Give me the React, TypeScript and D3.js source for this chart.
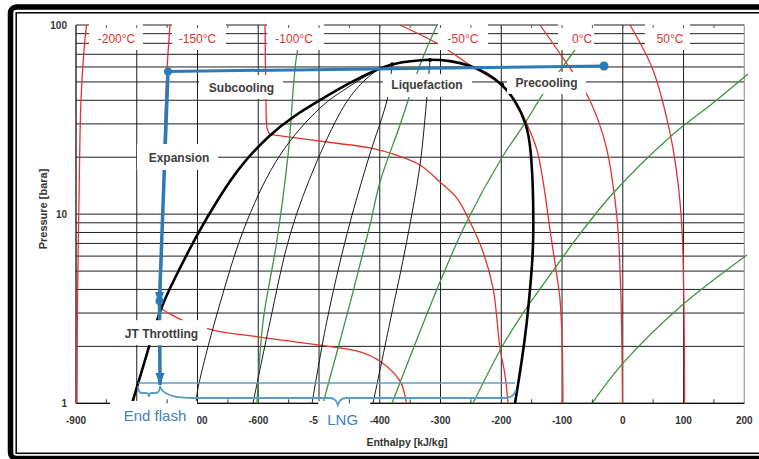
import React from 'react';
import * as d3 from 'd3';

type Pt = [number, number]; // [enthalpy kJ/kg, pressure bara]

// ---------- axes ----------
const xTickValues = [-900, -800, -700, -600, -500, -400, -300, -200, -100, 0, 100, 200];
const xTickLabels = [-900, -700, -600, -500, -400, -300, -200, -100, 0, 100, 200];
const xMinorTicks = [-850, -750, -650, -550, -450, -350, -250, -150, -50, 50, 150];
const yTickLabels = [1, 10, 100];
const yGridValues = [1, 2, 3, 4, 5, 6, 7, 8, 9, 10, 20, 30, 40, 50, 60, 70, 80, 90, 100];

// ---------- phase envelope ----------
const phaseEnvelope: Pt[] = [
  [-807.8, 1.0], [-788.1, 1.61], [-761.7, 3.19], [-738.7, 4.49], [-700.8, 7.85], [-663, 12.5],
  [-630.1, 18.0], [-580.7, 26.5], [-539.5, 33.4], [-498.4, 40.1], [-449, 49.7], [-399.6, 59.3],
  [-379.9, 62.2], [-350.2, 64.5], [-317.3, 65.9], [-284.4, 64.8], [-251.5, 61.4], [-223.5, 55.7],
  [-198.8, 48.8], [-177.4, 40.1], [-157.7, 30.0], [-151.1, 21.8], [-147.8, 13.8], [-147, 9.3],
  [-147.8, 6.1], [-152.7, 3.97], [-157.7, 2.69], [-165.9, 1.69], [-177.4, 1.0],
];
const envelopeMarkers: Pt[] = [[-379.9, 62.0], [-317.3, 65.3], [-198.8, 48.6]];

// ---------- quality lines (thin black) ----------
const quality1: Pt[] = [[-702.5, 1], [-699.2, 1.2], [-668.4, 2.93], [-619, 9.12], [-564.2, 20.5], [-498.4, 36.4], [-449, 47.6], [-399.6, 59.3]];
const quality2: Pt[] = [[-608.7, 1], [-580.7, 2.69], [-547.8, 7.76], [-503.8, 18.9], [-454.4, 39.3], [-424.3, 51.2], [-399.6, 59.3]];
const quality3: Pt[] = [[-511.5, 1], [-487.4, 2.69], [-454.4, 7.76], [-419.4, 19.3], [-386.4, 42.1], [-379.9, 62.0]];
const quality4: Pt[] = [[-411.1, 1], [-383.2, 2.69], [-355.7, 7.15], [-333.8, 18.2], [-322.3, 42.1], [-317.3, 65.3]];

// ---------- green lines ----------
const green1: Pt[] = [[-602.1, 1], [-592.2, 2.69], [-569.6, 7.15], [-551, 20.5], [-536.7, 69.4], [-524.7, 100]];
const green2: Pt[] = [[-493.4, 1], [-447.4, 3.52], [-416.1, 8.76], [-399.6, 14.8], [-366.7, 29.6], [-333.8, 61.4], [-305.8, 100]];
const green3: Pt[] = [[-379.9, 1], [-300.9, 4.38], [-256.9, 9.12], [-199.3, 19.8], [-161, 30.3], [-131.3, 43.2], [-96.8, 61.4], [-49, 100]];
const green4: Pt[] = [[-246.5, 1], [-198.8, 1.99], [-164.2, 3.0], [-98.4, 5.94], [-65.5, 8.25], [-16.1, 12.9], [77.7, 25.6], [148.5, 38.7], [206, 55.1]];
const green5: Pt[] = [[-50.7, 1], [0.4, 1.63], [94.2, 3.23], [204.4, 6.08]];

// ---------- isotherms (red) ----------
const isoM200: Pt[] = [[-882.7, 100], [-886.8, 73.8], [-891.8, 40.1], [-895.1, 11.9], [-897.5, 3.52], [-898.4, 1]];
const isoM150Liquid: Pt[] = [[-745.3, 100], [-750.2, 57.8], [-755.2, 21.8], [-758.4, 6.46], [-761.7, 3.19]];
const isoM150TwoPhase: Pt[] = [[-761.7, 3.19], [-745.3, 2.97], [-726, 2.76], [-674.5, 2.44], [-597.1, 2.24], [-498.4, 2.03], [-432.5, 1.87], [-399.6, 1.67], [-366.7, 1.31], [-356, 1.0]];
const isoM100Liquid: Pt[] = [[-588.9, 100], [-587.3, 40.1], [-585.6, 28.6], [-581.5, 26.4]];
const isoM100TwoPhase: Pt[] = [[-581.5, 26.4], [-470.9, 23.7], [-416.1, 22.4], [-372.1, 20.5], [-333.8, 18.2], [-300.9, 14.8], [-273.4, 12.2], [-251.5, 9.12], [-230.1, 6.33], [-213.6, 4.07], [-202.1, 1.96], [-193.9, 1.41], [-188.9, 1.0]];
const isoM50Upper: Pt[] = [[-366.7, 100], [-300.9, 78.4], [-251.5, 61.4], [-198.8, 48.6]];
const isoM50Lower: Pt[] = [[-198.8, 48.6], [-177.4, 40.1], [-157.7, 30.0], [-141.2, 21.8], [-129.7, 13.9], [-119.8, 8.25], [-109.9, 5.07], [-103.3, 3.52], [-100, 2.16], [-98.4, 1.0]];
const iso0: Pt[] = [[-136.3, 100], [-98.4, 66.9], [-62.2, 44.8], [-40.8, 31.5], [-26, 21.8], [-12.8, 11.9], [-7.9, 8.25], [-2.9, 3.52], [-0.5, 1.0]];
const iso50: Pt[] = [[11.9, 100], [49.7, 57.8], [77.7, 26.9], [90.9, 14.6], [97.5, 8.25], [100.8, 3.0], [101.6, 1.0]];

const tempLabels = ['-200°C', '-150°C', '-100°C', '-50°C', '0°C', '50°C'];
const tempLabelH = [-833.3, -700, -541, -263, -67, 77.7];
const tempLabelP = 84.3;

// ---------- LNG process (blue) ----------
const processCooling: Pt[] = [[-748.6, 56.8], [-30.9, 60.7]];
const processExpansion: Pt[] = [[-748.6, 56.8], [-762.6, 3.47]];
const processThrottling: Pt[] = [[-762.6, 3.47], [-761.7, 1.25]];
const processDots: Pt[] = [[-748.6, 56.8], [-30.9, 60.7], [-762.6, 3.47]];
const lngLevelLine: Pt[] = [[-798, 1.28], [-177.4, 1.28]];
const endFlashRange = [-798, -762];
const lngRange = [-762, -176];

const processLabels = ['Subcooling', 'Expansion', 'Liquefaction', 'Precooling', 'JT Throttling'];
const processLabelH = [-627.6, -730.5, -322.3, -125.6, -759.3];
const processLabelP = [46.4, 19.8, 48.2, 49.4, 2.32];

// ---------- styles (not data) ----------
const FONT = "'Liberation Sans', Arial, Helvetica, sans-serif";
const RED = '#e2332d';
const GREEN = '#3d963d';
const BLUE = '#2b7bb9';
const LIGHTBLUE = '#5b9cc4';
const GRID = '#1e1e1e';
const tempBoxPad = [[-27.5, 26.5], [-25.5, 28.5], [-27, 30], [-25, 25], [-24, 12], [-25, 20]];
const procBoxPad = [
  [-42.5, 41.5, -13, 11],
  [-42, 39, -14, 12],
  [-44, 45, -11, 12],
  [-39.5, 39.5, -11, 11],
  [-46.5, 45.5, -14, 11],
];

export default function App() {
  const x = d3.scaleLinear().domain([-900, 200]).range([76, 744.3]);
  const y = d3.scaleLog().domain([1, 100]).range([403.3, 25]);
  const curve = d3.line<Pt>().x(d => x(d[0])).y(d => y(d[1])).curve(d3.curveCatmullRom.alpha(0.5));
  const smooth = d3.line<Pt>().x(d => x(d[0])).y(d => y(d[1])).curve(d3.curveBasis);
  const straight = d3.line<Pt>().x(d => x(d[0])).y(d => y(d[1]));

  const x0 = x(-900), x1 = x(200), yTop = y(100), yBot = y(1);

  const redLines = [isoM200, isoM150Liquid, isoM150TwoPhase, isoM100Liquid, isoM100TwoPhase, isoM50Upper, isoM50Lower, iso0, iso50];
  const greenLines = [green1, green2, green3, green4, green5];
  const qualityLines = [quality1, quality2, quality3, quality4];

  // braces
  const b0 = y(lngLevelLine[0][1]) + 3;
  const ef0 = x(endFlashRange[0]), ef1 = x(endFlashRange[1]), efm = (ef0 + ef1) / 2;
  const endFlashBrace = `M${ef0},${b0} Q${ef0},${b0 + 7} ${ef0 + 4},${b0 + 7} L${efm - 3},${b0 + 7} Q${efm},${b0 + 7} ${efm},${b0 + 11} Q${efm},${b0 + 7} ${efm + 3},${b0 + 7} L${ef1 - 4},${b0 + 7} Q${ef1},${b0 + 7} ${ef1},${b0}`;
  const l0 = x(lngRange[0]), l1 = x(lngRange[1]), lm = (l0 + l1) / 2;
  const lngBrace = `M${l0},${b0} C${l0 + 3},${b0 + 9} ${l0 + 14},${b0 + 12} ${l0 + 35},${b0 + 12} L${lm - 8},${b0 + 12} Q${lm - 2},${b0 + 12} ${lm},${b0 + 19} Q${lm + 2},${b0 + 12} ${lm + 8},${b0 + 12} L${l1 - 12},${b0 + 12} Q${l1 - 2},${b0 + 12} ${l1},${b0 + 4}`;

  const arrowDown = (px: number, py: number, len: number, hw: number) =>
    `M${px},${py} L${px - hw},${py - len} L${px + hw},${py - len} Z`;

  const dotExp = processDots[2];
  const thrEnd = processThrottling[1];

  const efCenter = x(-770);
  const lngCenter = x(-461);

  return (
    <svg width={759} height={459} style={{ position: 'absolute', left: 0, top: 0, display: 'block' }} fontFamily={FONT}>
      <rect x={0} y={0} width={759} height={459} fill="#fff" />

      {/* grid */}
      {yGridValues.map(v => (
        <line key={'hg' + v} x1={x0} x2={x1} y1={y(v)} y2={y(v)} stroke={GRID} strokeWidth={1} />
      ))}
      {xTickValues.slice(1, -1).map(v => (
        <line key={'vg' + v} x1={x(v)} x2={x(v)} y1={yTop} y2={yBot} stroke={GRID} strokeWidth={1} />
      ))}
      <line x1={x1} x2={x1} y1={yTop} y2={yBot} stroke="#9a9a9a" strokeWidth={1.2} />
      <line x1={x0} x2={x0} y1={yTop} y2={yBot} stroke="#111" strokeWidth={1.3} />
      <line x1={x0} x2={x1} y1={yBot} y2={yBot} stroke="#111" strokeWidth={1.3} />

      {/* isotherms */}
      {redLines.map((d, i) => (
        <path key={'r' + i} d={curve(d) || ''} fill="none" stroke={RED} strokeWidth={1.3} />
      ))}
      {/* green lines */}
      {greenLines.map((d, i) => (
        <path key={'g' + i} d={curve(d) || ''} fill="none" stroke={GREEN} strokeWidth={1.3} />
      ))}
      {/* quality lines */}
      {qualityLines.map((d, i) => (
        <path key={'q' + i} d={curve(d) || ''} fill="none" stroke="#1a1a1a" strokeWidth={1} />
      ))}
      {/* envelope */}
      <path d={smooth(phaseEnvelope) || ''} fill="none" stroke="#000" strokeWidth={2.6} />
      {envelopeMarkers.map((d, i) => (
        <circle key={'ed' + i} cx={x(d[0])} cy={y(d[1])} r={2} fill="#000" />
      ))}

      {/* LNG level line */}
      <path d={straight(lngLevelLine) || ''} fill="none" stroke={LIGHTBLUE} strokeWidth={1.5} />

      {/* blue process */}
      <path d={straight(processCooling) || ''} fill="none" stroke={BLUE} strokeWidth={3} />
      <path d={straight(processExpansion) || ''} fill="none" stroke={BLUE} strokeWidth={3.5} />
      <path d={straight(processThrottling) || ''} fill="none" stroke={BLUE} strokeWidth={3.5} />
      <path d={arrowDown(x(dotExp[0]), y(dotExp[1]) + 4, 13, 4.5)} fill={BLUE} />
      <path d={arrowDown(x(thrEnd[0]), y(thrEnd[1]) + 1, 13, 4.5)} fill={BLUE} />
      {processDots.map((d, i) => (
        <circle key={'pd' + i} cx={x(d[0])} cy={y(d[1])} r={i === 1 ? 4.5 : 4} fill={BLUE} />
      ))}

      {/* tick labels */}
      {xTickLabels.map(v => (
        <text key={'xt' + v} x={x(v)} y={424} textAnchor="middle" fontSize={10} fontWeight="bold" fill="#333">{v}</text>
      ))}
      {yTickLabels.map(v => (
        <text key={'yt' + v} x={67} y={y(v)} textAnchor="end" dominantBaseline="central" fontSize={10} fontWeight="bold" fill="#333">{v}</text>
      ))}

      {/* label boxes */}
      {tempLabels.map((t, i) => {
        const cx = x(tempLabelH[i]);
        return <rect key={'tb' + i} x={cx + tempBoxPad[i][0]} y={22} width={tempBoxPad[i][1] - tempBoxPad[i][0]} height={28} fill="#fff" />;
      })}
      {processLabels.map((t, i) => {
        const cx = x(processLabelH[i]);
        const cy = y(processLabelP[i]);
        const p = procBoxPad[i];
        return <rect key={'pb' + i} x={cx + p[0]} y={cy + p[2]} width={p[1] - p[0]} height={p[3] - p[2]} fill="#fff" />;
      })}
      <rect x={efCenter - 45} y={401} width={87} height={32} fill="#fff" />
      <rect x={lngCenter - 24.5} y={401} width={52} height={32} fill="#fff" />

      {/* ticks */}
      {xMinorTicks.map(v => (
        <line key={'bt' + v} x1={x(v)} x2={x(v)} y1={yBot} y2={yBot - 4} stroke="#333" strokeWidth={1} />
      ))}
      {[...xTickValues.slice(1, -1), ...xMinorTicks].map(v => (
        <line key={'tt' + v} x1={x(v)} x2={x(v)} y1={yTop} y2={yTop + 3} stroke="#555" strokeWidth={1} />
      ))}

      {/* braces */}
      <path d={endFlashBrace} fill="none" stroke={LIGHTBLUE} strokeWidth={1.8} />
      <path d={lngBrace} fill="none" stroke={LIGHTBLUE} strokeWidth={1.8} />

      {/* texts */}
      {tempLabels.map((t, i) => (
        <text key={'tl' + i} x={x(tempLabelH[i])} y={y(tempLabelP)} textAnchor="middle" dominantBaseline="central" fontSize={12} fill={RED}>{t}</text>
      ))}
      {processLabels.map((t, i) => (
        <text key={'pl' + i} x={x(processLabelH[i])} y={y(processLabelP[i])} textAnchor="middle" dominantBaseline="central" fontSize={12} fontWeight="bold" fill="#3d3d3d">{t}</text>
      ))}
      <text x={efCenter} y={421} textAnchor="middle" fontSize={15} fill="#3f80bb">End flash</text>
      <text x={lngCenter} y={425} textAnchor="middle" fontSize={15} fill="#3f80bb">LNG</text>

      <text x={407} y={446} textAnchor="middle" fontSize={10.5} fontWeight="bold" fill="#333">Enthalpy [kJ/kg]</text>
      <text transform="translate(43,209) rotate(-90)" textAnchor="middle" dominantBaseline="central" fontSize={11} fontWeight="bold" fill="#333">Pressure [bara]</text>

      {/* frame */}
      <rect x={10.5} y={7} width={790} height={451.5} rx={6} fill="none" stroke="#000" strokeWidth={5.5} />
      <rect x={16.2} y={12.8} width={790} height={440.5} fill="none" stroke="#000" strokeWidth={1.5} />
    </svg>
  );
}
